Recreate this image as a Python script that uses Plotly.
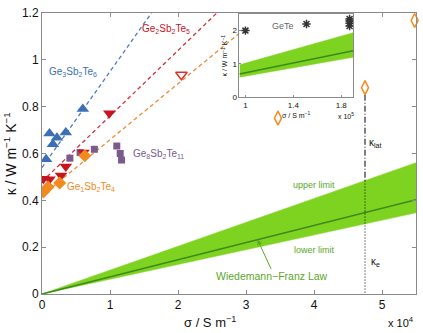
import plotly.graph_objects as go

# ---- data (sigma in 1e4 S/m, kappa in W/m/K) ----
g326_sigma = [0.06, 0.11, 0.16, 0.22, 0.35, 0.60]
g326_kappa = [0.575, 0.685, 0.64, 0.667, 0.69, 0.79]

g225_sigma = [0.02, 0.11, 0.28, 0.35, 0.61, 0.99]
g225_kappa = [0.492, 0.49, 0.506, 0.545, 0.604, 0.772]
g225_open_sigma = [2.05]
g225_open_kappa = [0.936]

g124_sigma = [0.02, 0.09, 0.26, 0.63]
g124_kappa = [0.436, 0.457, 0.474, 0.59]
g124_open_sigma = [3.47, 4.75, 5.48]
g124_open_kappa = [0.751, 0.881, 1.168]

g8211_sigma = [0.41, 0.56, 0.77, 1.10, 1.15, 1.17]
g8211_kappa = [0.58, 0.604, 0.618, 0.632, 0.60, 0.572]

# dashed fit lines: (intercept, slope per 1e4 S/m, x-end)
fit_326 = (0.54, 0.41, 1.62)
fit_225 = (0.48, 0.28, 2.57)
fit_124 = (0.42, 0.239, 2.9)

# Wiedemann-Franz: kappa = L * sigma * T
T = 300.0
L_mid, L_up, L_low = 2.44e-8, 3.4e-8, 2.1e-8
sig_range = [0.0, 5.5]

# inset GeTe (sigma in 1e5 S/m)
gete_sigma = [1.0, 1.51, 1.87, 1.87, 1.87, 1.87]
gete_kappa = [2.0, 2.2, 2.14, 2.22, 2.29, 2.35]
inset_range = [0.95, 1.9]

kappa_lat_x = 4.75

fig = go.Figure()

def wf(L, s, scale):
    return L * s * scale * T

BAND = "#7ed321"
MID = "#3c8a1c"
TXTG = "#5aa828"

xs = sig_range
fig.add_trace(go.Scatter(x=xs, y=[wf(L_low, s, 1e4) for s in xs], mode="lines",
                         line=dict(color=BAND, width=0.5), showlegend=False))
fig.add_trace(go.Scatter(x=xs, y=[wf(L_up, s, 1e4) for s in xs], mode="lines",
                         line=dict(color=BAND, width=0.5), fill="tonexty",
                         fillcolor=BAND, showlegend=False))
fig.add_trace(go.Scatter(x=xs, y=[wf(L_mid, s, 1e4) for s in xs], mode="lines",
                         line=dict(color=MID, width=1.6), showlegend=False))

for (b, m, xe), col in [(fit_326, "#4a7cc0"), (fit_225, "#d0303c"), (fit_124, "#f08a30")]:
    fig.add_trace(go.Scatter(x=[0, xe], y=[b, b + m * xe], mode="lines",
                             line=dict(color=col, width=1.3, dash="4px,3px"), showlegend=False))

k_band = wf(L_up, kappa_lat_x, 1e4)
fig.add_trace(go.Scatter(x=[kappa_lat_x, kappa_lat_x], y=[g124_open_kappa[1] - 0.03, k_band],
                         mode="lines", line=dict(color="black", width=1, dash="6px,2px,1px,2px"),
                         showlegend=False))
fig.add_trace(go.Scatter(x=[kappa_lat_x, kappa_lat_x], y=[k_band, 0],
                         mode="lines", line=dict(color="black", width=1, dash="1px,2px"),
                         showlegend=False))

fig.add_trace(go.Scatter(x=g326_sigma, y=g326_kappa, mode="markers",
                         marker=dict(symbol="triangle-up", size=11, color="#3b6fb6"), showlegend=False))
fig.add_trace(go.Scatter(x=g8211_sigma, y=g8211_kappa, mode="markers",
                         marker=dict(symbol="square", size=7, color="#7b5b8c"), showlegend=False))
fig.add_trace(go.Scatter(x=g225_sigma, y=g225_kappa, mode="markers",
                         marker=dict(symbol="triangle-down", size=11, color="#c8141e"), showlegend=False))
fig.add_trace(go.Scatter(x=g225_open_sigma, y=g225_open_kappa, mode="markers",
                         marker=dict(symbol="triangle-down-open", size=10, color="#e0302a",
                                     line=dict(width=1.5)), showlegend=False))
fig.add_trace(go.Scatter(x=g124_sigma, y=g124_kappa, mode="markers",
                         marker=dict(symbol="diamond", size=10, color="#f28a1e"), showlegend=False))
fig.add_trace(go.Scatter(x=g124_open_sigma, y=g124_open_kappa, mode="markers", cliponaxis=False,
                         marker=dict(symbol="diamond-tall-open", size=10, color="#f28a1e",
                                     line=dict(width=1.5)), showlegend=False))

xi = inset_range
fig.add_trace(go.Scatter(x=xi, y=[wf(L_low, s, 1e5) for s in xi], mode="lines", xaxis="x2", yaxis="y2",
                         line=dict(color=BAND, width=0.5), showlegend=False))
fig.add_trace(go.Scatter(x=xi, y=[wf(L_up, s, 1e5) for s in xi], mode="lines", xaxis="x2", yaxis="y2",
                         line=dict(color=BAND, width=0.5), fill="tonexty", fillcolor=BAND,
                         showlegend=False))
fig.add_trace(go.Scatter(x=xi, y=[wf(L_mid, s, 1e5) for s in xi], mode="lines", xaxis="x2", yaxis="y2",
                         line=dict(color=MID, width=1.5), showlegend=False))
fig.add_trace(go.Scatter(x=gete_sigma, y=gete_kappa, mode="markers", xaxis="x2", yaxis="y2",
                         marker=dict(symbol="asterisk-open", size=7, color="#333333",
                                     line=dict(width=1.5, color="#333333")), showlegend=False))

F = "Liberation Sans"
axis_common = dict(showgrid=False, zeroline=False, showline=True, linecolor="#8a8a8a",
                   linewidth=1, mirror="ticks", ticks="inside", tickcolor="#8a8a8a",
                   ticklen=4, tickfont=dict(family=F, size=12, color="#111"))
inset_common = dict(showgrid=False, zeroline=False, showline=True, linecolor="#8a8a8a", mirror=True,
                    ticks="inside", ticklen=2, tickcolor="#8a8a8a",
                    tickfont=dict(family=F, size=8, color="#111"))

fig.update_layout(
    width=423, height=333,
    margin=dict(l=42, r=6, t=7, b=39),
    plot_bgcolor="white", paper_bgcolor="white",
    xaxis=dict(range=[0, 5.5], tickvals=[0, 1, 2, 3, 4, 5], **axis_common),
    yaxis=dict(range=[0, 1.2], tickvals=[0, 0.2, 0.4, 0.6, 0.8, 1.0, 1.2],
               ticktext=["0", "0.2", "0.4", "0.6", "0.8", "1", "1.2"], **axis_common),
    xaxis2=dict(domain=[0.528, 0.832], anchor="y2", range=inset_range, tickvals=[1, 1.4, 1.8],
                **inset_common),
    yaxis2=dict(domain=[0.701, 0.9965], anchor="x2", range=[0, 2.5], tickvals=[0, 1, 2],
                **inset_common),
)

ann = []
def A(x, y, text, color, size, xref="x", yref="y", **kw):
    ann.append(dict(x=x, y=y, xref=xref, yref=yref, text=text, showarrow=False,
                    xanchor="center", yanchor="middle",
                    font=dict(family=F, size=size, color=color), **kw))

A(0.45, 0.95, "Ge<sub>3</sub>Sb<sub>2</sub>Te<sub>6</sub>", "#3b6fb6", 10)
A(1.82, 1.13, "Ge<sub>2</sub>Sb<sub>2</sub>Te<sub>5</sub>", "#c8141e", 10)
A(1.72, 0.60, "Ge<sub>8</sub>Sb<sub>2</sub>Te<sub>11</sub>", "#7b5b8c", 10)
A(0.72, 0.455, "Ge<sub>1</sub>Sb<sub>2</sub>Te<sub>4</sub>", "#f28a1e", 10)
A(4.0, 0.466, "upper limit", TXTG, 9)
A(4.0, 0.19, "lower limit", TXTG, 9)
A(3.38, 0.075, "Wiedemann\u2212Franz Law", TXTG, 10.5)
A(4.9, 0.645, "κ<sub>lat</sub>", "#111", 10)
A(4.9, 0.135, "κ<sub>e</sub>", "#111", 10)
A(0.448, -0.098, "σ / S m<sup>−1</sup>", "#111", 13, xref="paper", yref="paper")
A(0.96, -0.098, "x 10<sup>4</sup>", "#111", 11, xref="paper", yref="paper")
A(-0.086, 0.5, "κ / W m<sup>−1</sup> K<sup>−1</sup>", "#111", 14, xref="paper", yref="paper",
  textangle=-90)
A(1.316, 2.15, "GeTe", "#666", 9, xref="x2", yref="y2")
A(0.679, 0.637, "σ / S m<sup>−1</sup>", "#111", 7, xref="paper", yref="paper")
A(0.8125, 0.632, "x 10<sup>5</sup>", "#111", 7, xref="paper", yref="paper")
A(0.488, 0.847, "κ / W m<sup>−1</sup> K<sup>−1</sup>", "#111", 7, xref="paper", yref="paper",
  textangle=-90)

ann.append(dict(x=3.17, y=wf(L_mid, 3.17, 1e4), xref="x", yref="y", ax=3.38, ay=0.1,
                axref="x", ayref="y", showarrow=True, arrowhead=2, arrowsize=1, arrowwidth=1,
                arrowcolor=TXTG, text=""))
fig.update_layout(annotations=ann)

fig.write_html("out.html")
